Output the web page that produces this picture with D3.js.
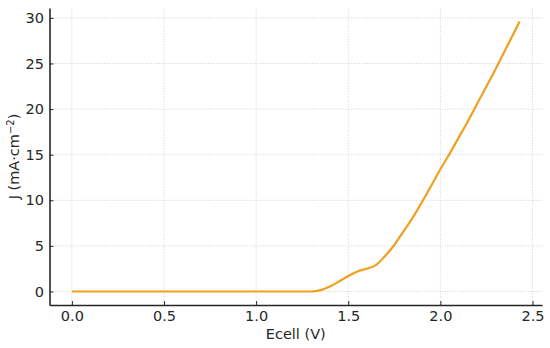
<!DOCTYPE html>
<html>
<head>
<meta charset="utf-8">
<script src="https://cdn.jsdelivr.net/npm/d3@7"></script>
<style>
  body { margin: 0; background: #fff; }
  text { font-family: "DejaVu Sans", sans-serif; }
</style>
</head>
<body>
<script>
// cell voltage (V) and current density (mA/cm2)
var ecell = [0.0, 0.2, 0.4, 0.6, 0.8, 1.0, 1.2, 1.3, 1.35, 1.4, 1.45, 1.5, 1.55, 1.6, 1.65,
  1.7, 1.75, 1.8, 1.85, 1.9, 1.95, 2.0, 2.05, 2.1, 2.15, 2.2, 2.25, 2.3, 2.35, 2.4, 2.43]
var current = [0, 0, 0, 0, 0, 0, 0, 0, 0.15, 0.55, 1.1, 1.7, 2.2, 2.5, 2.9,
  3.9, 5.1, 6.6, 8.1, 9.8, 11.6, 13.4, 15.1, 16.9, 18.7, 20.6, 22.5, 24.4, 26.4, 28.4, 29.6]
var xTicks = [0.0, 0.5, 1.0, 1.5, 2.0, 2.5]
var yTicks = [0, 5, 10, 15, 20, 25, 30]

var width = 550, height = 348
var margin = {top: 8, right: 8, bottom: 43, left: 49.5}
var fontSize = "14.5px"

var svg = d3.select("body").append("svg")
  .attr("width", width)
  .attr("height", height)

var xSpan = d3.max(ecell) - d3.min(ecell)
var ySpan = d3.max(current) - d3.min(current)

var x = d3.scaleLinear()
  .domain([d3.min(ecell) - 0.05 * xSpan, d3.max(ecell) + 0.05 * xSpan])
  .range([margin.left, width - margin.right])
var y = d3.scaleLinear()
  .domain([d3.min(current) - 0.05 * ySpan, d3.max(current) + 0.05 * ySpan])
  .range([height - margin.bottom, margin.top])

// dotted grid
var grid = svg.append("g")
grid.selectAll(".gx")
  .data(xTicks)
  .enter().append("line")
  .attr("x1", function(d) { return x(d) }).attr("x2", function(d) { return x(d) })
  .attr("y1", y.range()[0]).attr("y2", y.range()[1])
grid.selectAll(".gy")
  .data(yTicks)
  .enter().append("line")
  .attr("y1", function(d) { return y(d) }).attr("y2", function(d) { return y(d) })
  .attr("x1", x.range()[0]).attr("x2", x.range()[1])
grid.selectAll("line")
  .attr("stroke", "#c8c8c8")
  .attr("stroke-width", 0.8)
  .attr("stroke-dasharray", "1,1.6")

// the curve
var pts = ecell.map(function(v, i) { return [v, current[i]] })
svg.append("path")
  .datum(pts)
  .attr("fill", "none")
  .attr("stroke", "#f0a01e")
  .attr("stroke-width", 2.2)
  .attr("stroke-linejoin", "round")
  .attr("d", d3.line()
    .x(function(d) { return x(d[0]) })
    .y(function(d) { return y(d[1]) })
    .curve(d3.curveMonotoneX))

// axes, ticks pointing inside
var xAxis = svg.append("g")
  .attr("transform", "translate(0," + y.range()[0] + ")")
  .call(d3.axisBottom(x).tickValues(xTicks).tickFormat(d3.format(".1f"))
    .tickSizeInner(-4).tickSizeOuter(0).tickPadding(6))
var yAxis = svg.append("g")
  .attr("transform", "translate(" + x.range()[0] + ",0)")
  .call(d3.axisLeft(y).tickValues(yTicks).tickFormat(d3.format("d"))
    .tickSizeInner(-4).tickSizeOuter(0).tickPadding(5.5))

svg.selectAll(".domain").attr("stroke", "#262626").attr("stroke-width", 1.6)
svg.selectAll(".tick line").attr("stroke", "#262626").attr("stroke-width", 1)
svg.selectAll(".tick text")
  .attr("fill", "#262626")
  .style("font-size", fontSize)
  .style("font-family", "DejaVu Sans")

// axis titles
svg.append("text")
  .attr("x", (x.range()[0] + x.range()[1]) / 2)
  .attr("y", 339)
  .attr("text-anchor", "middle")
  .attr("fill", "#262626")
  .style("font-size", fontSize)
  .text("Ecell (V)")

var yl = svg.append("text")
  .attr("transform", "translate(19," + (y.range()[0] + y.range()[1]) / 2 + ") rotate(-90)")
  .attr("text-anchor", "middle")
  .attr("fill", "#262626")
  .style("font-size", fontSize)
yl.append("tspan").text("J (mA·cm")
yl.append("tspan").attr("dy", -5).style("font-size", "10px").text("−2")
yl.append("tspan").attr("dy", 5).text(")")
</script>
</body>
</html>
